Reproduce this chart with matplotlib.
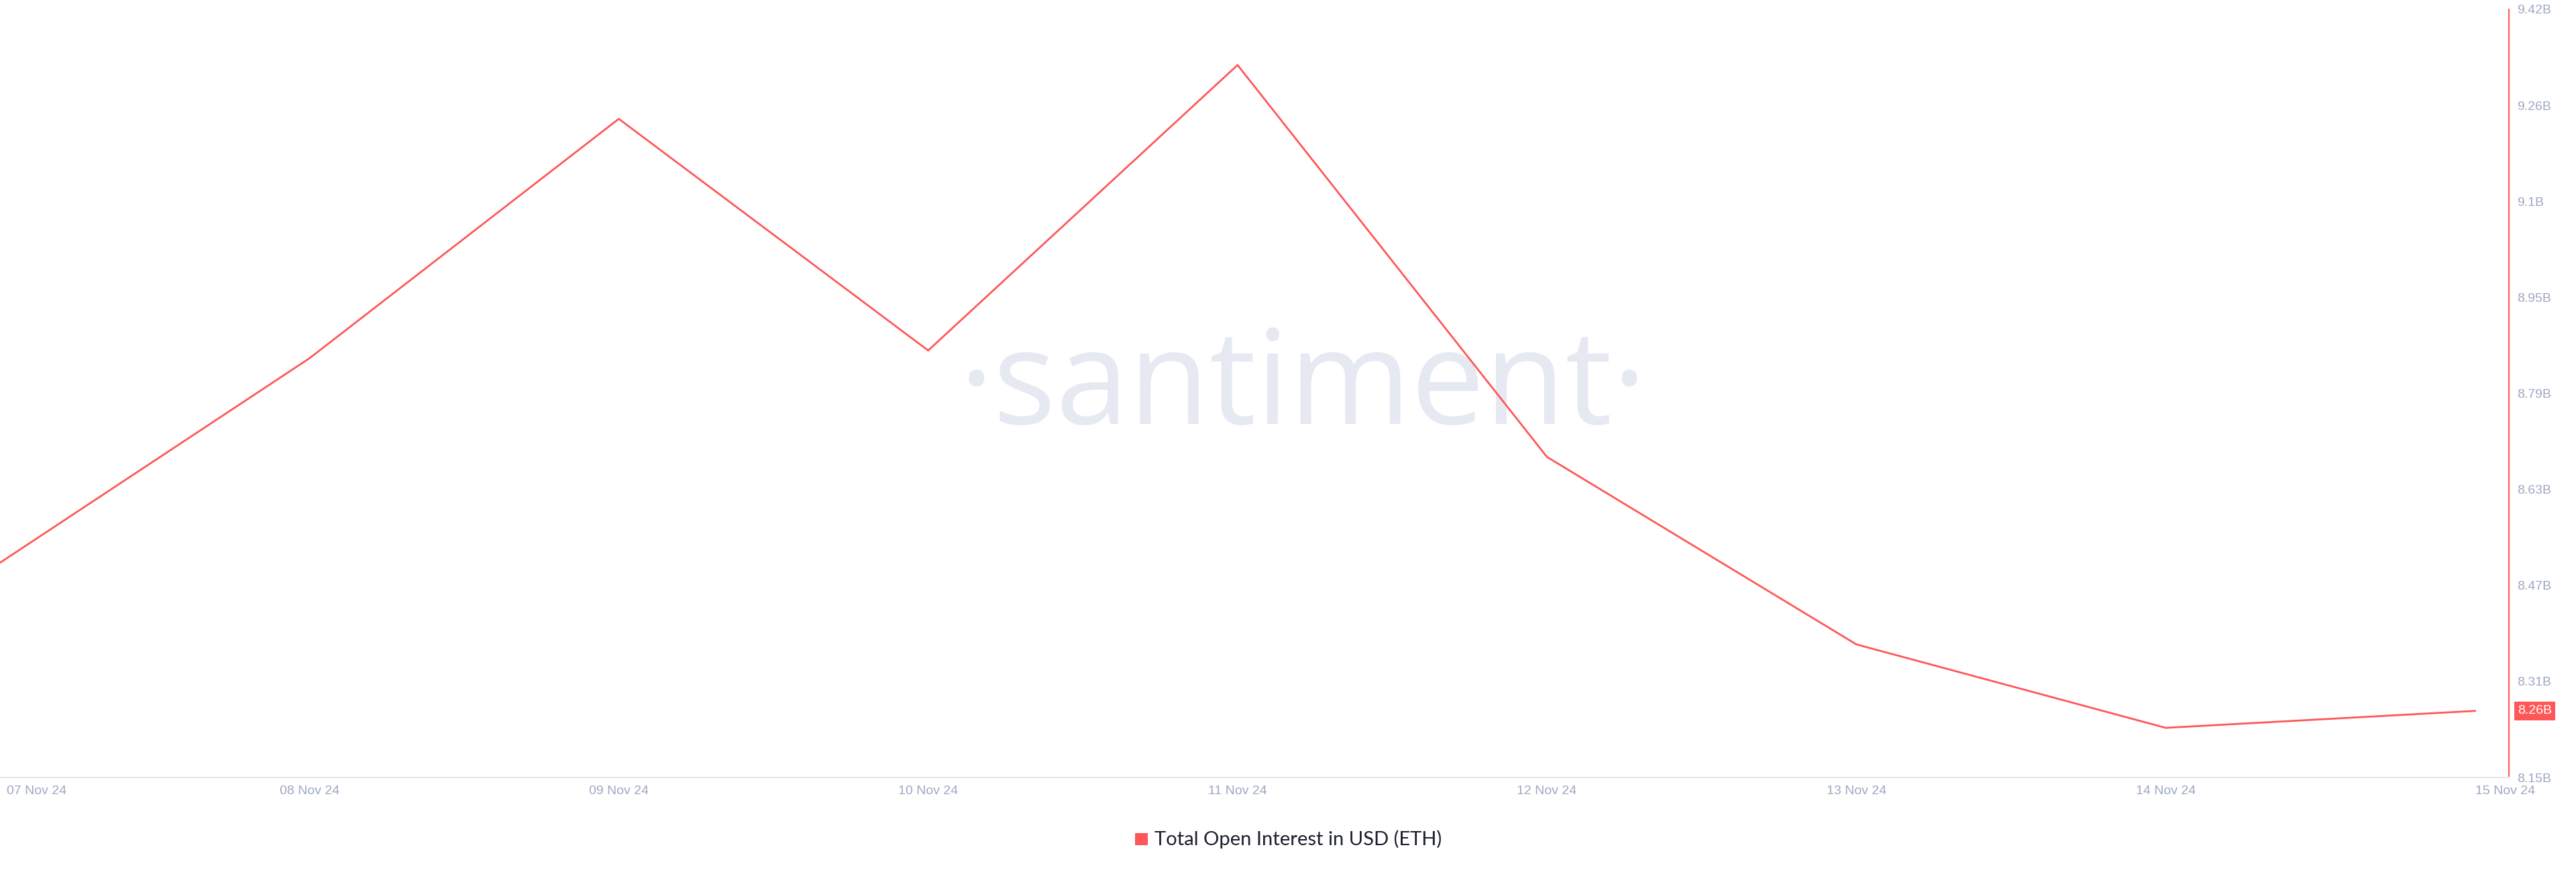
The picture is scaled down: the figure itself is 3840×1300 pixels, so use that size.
import matplotlib
matplotlib.use("Agg")
import matplotlib.pyplot as plt
import matplotlib.transforms as mtransforms
import numpy as np

# ---- data ----
dates = ["07 Nov 24", "08 Nov 24", "09 Nov 24", "10 Nov 24", "11 Nov 24",
         "12 Nov 24", "13 Nov 24", "14 Nov 24", "15 Nov 24"]
open_interest_b = [8.505, 8.843, 9.239, 8.856, 9.328, 8.680, 8.370, 8.232, 8.260]
y_min, y_max = 8.15, 9.42
y_tick_labels = ["8.15B", "8.31B", "8.47B", "8.63B", "8.79B", "8.95B", "9.1B", "9.26B", "9.42B"]
last_label = "8.26B"
series_name = "Total Open Interest in USD (ETH)"

RED = "#ff5757"
TICK_COL = "#9ea8c3"
GRID_COL = "#e3e7f1"
WM_COL = "#e6e9f2"

W, H = 3840, 1300
fig = plt.figure(figsize=(W / 100, H / 100), dpi=100)
fig.patch.set_facecolor("white")

ax_left, ax_right = 0, 3740
ax_top, ax_bottom = 14, 1159
ax = fig.add_axes([ax_left / W, (H - ax_bottom) / H, (ax_right - ax_left) / W, (ax_bottom - ax_top) / H])
ax.set_facecolor("none")

# watermark (behind the line)
ax.text(1942 / W, (H - 632) / H, "·santiment·", fontsize=141, family=["Open Sans", "DejaVu Sans"],
        color=WM_COL, ha="center", va="baseline", transform=fig.transFigure, zorder=0, clip_on=False)

x = np.arange(len(dates))
ax.plot(x, open_interest_b, color=RED, lw=2.0, solid_joinstyle="miter", zorder=3)

day_px = 461.2
ax.set_xlim(0, (ax_right - ax_left) / day_px)
ax.set_ylim(y_min, y_max)

for s in ["left", "top"]:
    ax.spines[s].set_visible(False)
ax.spines["right"].set_color(RED)
ax.spines["right"].set_linewidth(1.5)
ax.spines["bottom"].set_color(GRID_COL)
ax.spines["bottom"].set_linewidth(1.5)

ax.yaxis.tick_right()
ax.set_yticks(np.linspace(y_min, y_max, len(y_tick_labels)))
ax.set_yticklabels(y_tick_labels)
ax.tick_params(axis="y", length=0, pad=9, labelsize=14, labelcolor=TICK_COL)
for lbl in ax.get_yticklabels():
    lbl.set_family(["Liberation Sans", "DejaVu Sans"])

ax.set_xticks(x)
ax.set_xticklabels(dates)
ax.tick_params(axis="x", length=0, pad=9, labelsize=14, labelcolor=TICK_COL)
xl = ax.get_xticklabels()
for lbl in xl:
    lbl.set_family(["Liberation Sans", "DejaVu Sans"])
xl[0].set_ha("left")
xl[0].set_transform(xl[0].get_transform() + mtransforms.ScaledTranslation(10 / 100, 0, fig.dpi_scale_trans))
xl[-1].set_ha("left")

# last value badge
trans = mtransforms.blended_transform_factory(ax.transAxes, ax.transData)
trans = trans + mtransforms.ScaledTranslation(13 / 100, 0, fig.dpi_scale_trans)
ax.text(1.0, open_interest_b[-1], last_label, transform=trans, ha="left", va="center",
        fontsize=14, color="white", family=["Liberation Sans", "DejaVu Sans"], clip_on=False,
        bbox=dict(boxstyle="square,pad=0.28", facecolor=RED, edgecolor="none"), zorder=5)

# legend
fig.patches.append(plt.Rectangle((1692 / W, (H - 1260) / H), 19 / W, 18 / H,
                                 transform=fig.transFigure, facecolor=RED, edgecolor="none"))
fig.text(1721 / W, (H - 1251) / H, series_name, fontsize=21, family=["Lato", "DejaVu Sans"],
         color="#1c1f2e", ha="left", va="center")

fig.savefig("out.png", dpi=100, facecolor="white")
